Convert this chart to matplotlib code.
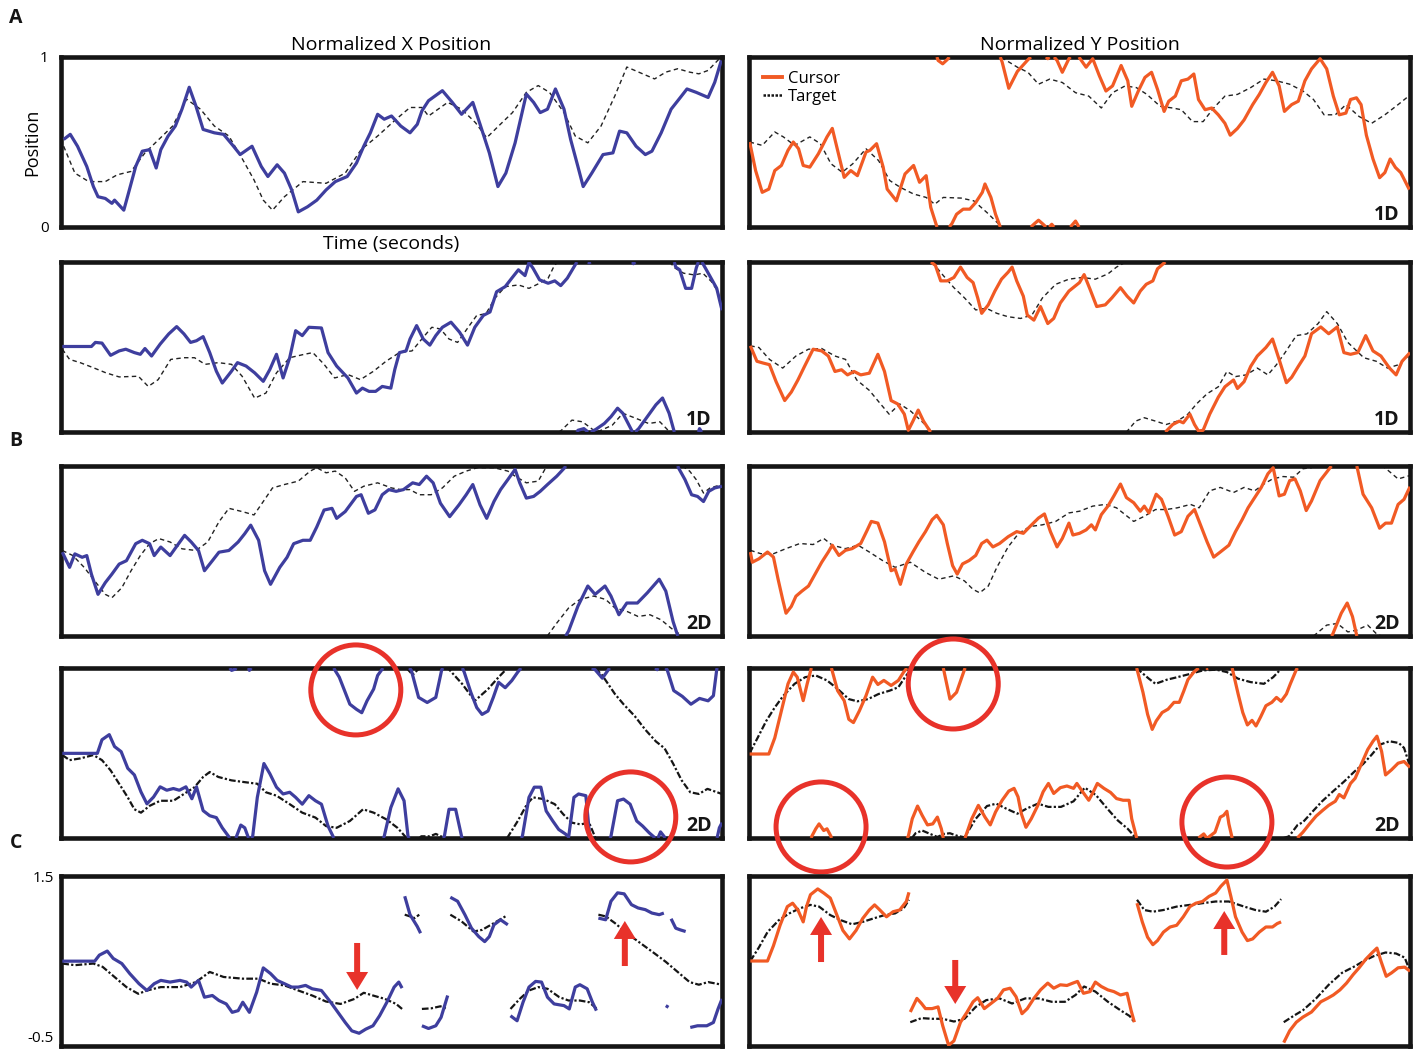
import numpy as np
import matplotlib
matplotlib.use("Agg")
import matplotlib.pyplot as plt
from matplotlib.patches import Ellipse
from matplotlib.lines import Line2D

# ---------------------------------------------------------------------------
# Data: (normalized time, normalized position) samples.
# Rows A (1D) and B (2D) hold unwrapped positions; they are displayed modulo 1.
# Row C holds positions in the nearest-image frame, broken into segments.
# ---------------------------------------------------------------------------

# Row 1 – 1D trial, X
x1_cursor = [(0.004,0.515),(0.014,0.545),(0.025,0.475),(0.039,0.356),(0.049,0.238),(0.056,0.178),(0.067,0.168),(0.077,0.139),(0.081,0.158),(0.095,0.099),(0.102,0.198),(0.113,0.356),(0.123,0.446),(0.134,0.455),(0.144,0.347),(0.151,0.455),(0.162,0.535),(0.173,0.594),(0.183,0.693),(0.194,0.822),(0.204,0.713),(0.215,0.574),(0.232,0.554),(0.246,0.545),(0.261,0.475),(0.271,0.426),(0.289,0.475),(0.303,0.356),(0.313,0.297),(0.327,0.366),(0.338,0.317),(0.349,0.218),(0.359,0.089),(0.373,0.119),(0.387,0.158),(0.401,0.218),(0.415,0.267),(0.433,0.297),(0.447,0.376),(0.458,0.475),(0.468,0.554),(0.479,0.663),(0.489,0.634),(0.500,0.653),(0.514,0.594),(0.528,0.554),(0.539,0.604),(0.546,0.683),(0.556,0.743),(0.577,0.802),(0.592,0.733),(0.606,0.663),(0.623,0.733),(0.634,0.604),(0.648,0.436),(0.661,0.238),(0.673,0.317),(0.687,0.495),(0.704,0.782),(0.715,0.733),(0.725,0.673),(0.736,0.693),(0.748,0.812),(0.761,0.693),(0.771,0.515),(0.782,0.356),(0.790,0.238),(0.803,0.317),(0.820,0.426),(0.835,0.436),(0.845,0.564),(0.856,0.554),(0.870,0.475),(0.884,0.426),(0.894,0.446),(0.908,0.554),(0.923,0.693),(0.937,0.762),(0.947,0.812),(0.961,0.792),(0.979,0.762),(0.989,0.851),(0.999,0.980)]
x1_target = [(0.004,0.475),(0.021,0.317),(0.042,0.267),(0.067,0.267),(0.085,0.307),(0.106,0.327),(0.127,0.436),(0.148,0.515),(0.169,0.594),(0.190,0.752),(0.211,0.693),(0.232,0.594),(0.254,0.535),(0.275,0.396),(0.292,0.277),(0.306,0.158),(0.320,0.099),(0.338,0.178),(0.366,0.267),(0.401,0.257),(0.430,0.317),(0.454,0.455),(0.479,0.535),(0.507,0.634),(0.528,0.703),(0.546,0.703),(0.556,0.653),(0.585,0.733),(0.606,0.693),(0.627,0.614),(0.644,0.525),(0.662,0.594),(0.683,0.673),(0.704,0.792),(0.722,0.832),(0.739,0.792),(0.761,0.673),(0.778,0.535),(0.797,0.495),(0.817,0.594),(0.838,0.772),(0.856,0.941),(0.880,0.901),(0.898,0.871),(0.915,0.911),(0.933,0.931),(0.951,0.911),(0.965,0.901),(0.979,0.921),(0.996,0.990)]

# Row 1 – 1D trial, Y
y1_cursor = [(0.001,0.500),(0.010,0.332),(0.020,0.204),(0.030,0.223),(0.039,0.332),(0.049,0.362),(0.059,0.451),(0.067,0.500),(0.075,0.460),(0.082,0.362),(0.092,0.352),(0.105,0.431),(0.118,0.530),(0.126,0.580),(0.134,0.451),(0.144,0.292),(0.154,0.332),(0.164,0.302),(0.177,0.441),(0.183,0.451),(0.193,0.490),(0.203,0.352),(0.209,0.223),(0.223,0.154),(0.236,0.312),(0.249,0.362),(0.258,0.263),(0.268,0.302),(0.275,0.115),(0.286,-0.020),(0.293,-0.040),(0.300,-0.015),(0.307,0.020),(0.314,0.075),(0.324,0.105),(0.334,0.105),(0.343,0.144),(0.353,0.204),(0.357,0.253),(0.366,0.174),(0.373,0.075),(0.383,-0.030),(0.393,-0.184),(0.406,-0.085),(0.422,-0.016),(0.432,0.020),(0.438,0.040),(0.445,0.016),(0.452,-0.010),(0.458,0.016),(0.466,-0.020),(0.474,-0.090),(0.484,-0.010),(0.494,0.035),(0.500,-0.005),(0.510,-0.060),(0.520,-0.010),(0.530,-0.110),(0.540,-0.200),(0.550,-0.170),(0.563,-0.050),(0.573,-0.140),(0.579,-0.290),(0.589,-0.200),(0.599,-0.120),(0.609,-0.090),(0.618,-0.190),(0.628,-0.320),(0.635,-0.260),(0.645,-0.230),(0.654,-0.140),(0.664,-0.130),(0.673,-0.100),(0.680,-0.250),(0.690,-0.310),(0.700,-0.300),(0.710,-0.340),(0.720,-0.390),(0.728,-0.460),(0.739,-0.420),(0.749,-0.370),(0.762,-0.280),(0.772,-0.220),(0.782,-0.150),(0.792,-0.090),(0.802,-0.170),(0.810,-0.320),(0.821,-0.280),(0.831,-0.260),(0.841,-0.140),(0.851,-0.070),(0.864,-0.010),(0.874,-0.070),(0.884,-0.230),(0.893,-0.340),(0.903,-0.330),(0.910,-0.250),(0.919,-0.240),(0.926,-0.280),(0.934,-0.460),(0.944,-0.600),(0.954,-0.710),(0.962,-0.680),(0.970,-0.600),(0.978,-0.650),(0.986,-0.680),(0.999,-0.780)]
y1_target = [(0.001,0.500),(0.020,0.480),(0.039,0.559),(0.052,0.530),(0.069,0.480),(0.092,0.530),(0.108,0.490),(0.124,0.372),(0.141,0.322),(0.157,0.372),(0.177,0.460),(0.196,0.391),(0.213,0.273),(0.229,0.233),(0.249,0.194),(0.268,0.174),(0.281,0.134),(0.294,0.174),(0.321,0.170),(0.340,0.154),(0.360,0.085),(0.385,-0.010),(0.406,-0.060),(0.422,-0.090),(0.438,-0.160),(0.455,-0.130),(0.474,-0.150),(0.494,-0.210),(0.514,-0.230),(0.533,-0.300),(0.550,-0.210),(0.569,-0.170),(0.586,-0.180),(0.602,-0.220),(0.622,-0.290),(0.641,-0.300),(0.654,-0.310),(0.671,-0.380),(0.687,-0.380),(0.703,-0.300),(0.720,-0.230),(0.739,-0.220),(0.759,-0.180),(0.779,-0.130),(0.798,-0.140),(0.818,-0.160),(0.838,-0.200),(0.854,-0.250),(0.870,-0.340),(0.887,-0.340),(0.903,-0.280),(0.923,-0.350),(0.942,-0.390),(0.962,-0.340),(0.982,-0.280),(0.998,-0.230)]

# Row 2 – second 1D trial, X
x2_cursor = [(0.002,0.503),(0.046,0.503),(0.052,0.527),(0.062,0.523),(0.075,0.451),(0.088,0.477),(0.098,0.487),(0.111,0.467),(0.120,0.457),(0.127,0.491),(0.137,0.447),(0.150,0.517),(0.163,0.577),(0.175,0.620),(0.186,0.577),(0.196,0.527),(0.205,0.537),(0.215,0.561),(0.225,0.467),(0.235,0.358),(0.244,0.288),(0.258,0.358),(0.267,0.408),(0.280,0.388),(0.293,0.348),(0.306,0.298),(0.316,0.368),(0.326,0.457),(0.336,0.318),(0.346,0.437),(0.355,0.596),(0.365,0.567),(0.375,0.616),(0.394,0.612),(0.404,0.467),(0.417,0.388),(0.434,0.318),(0.447,0.229),(0.456,0.258),(0.466,0.239),(0.476,0.239),(0.486,0.268),(0.499,0.258),(0.505,0.368),(0.512,0.467),(0.522,0.477),(0.528,0.547),(0.538,0.626),(0.548,0.547),(0.558,0.511),(0.567,0.567),(0.577,0.616),(0.590,0.646),(0.603,0.587),(0.615,0.511),(0.626,0.616),(0.639,0.686),(0.649,0.706),(0.659,0.825),(0.672,0.855),(0.682,0.905),(0.692,0.954),(0.702,0.920),(0.708,0.997),(0.714,0.964),(0.724,0.895),(0.737,0.875),(0.747,0.889),(0.756,0.861),(0.766,0.905),(0.782,1.010),(0.791,1.020),(0.799,0.995),(0.809,1.015),(0.822,1.050),(0.832,1.090),(0.842,1.140),(0.850,1.110),(0.858,1.050),(0.866,0.990),(0.874,1.020),(0.887,1.090),(0.900,1.160),(0.910,1.200),(0.920,1.110),(0.930,0.970),(0.936,0.954),(0.945,0.845),(0.954,0.845),(0.961,0.964),(0.966,1.020),(0.972,0.984),(0.982,0.915),(0.992,0.845),(1.000,0.716)]
x2_target = [(0.002,0.487),(0.013,0.427),(0.029,0.408),(0.049,0.378),(0.068,0.348),(0.088,0.324),(0.117,0.328),(0.132,0.268),(0.147,0.308),(0.166,0.427),(0.186,0.437),(0.202,0.437),(0.218,0.398),(0.238,0.408),(0.258,0.398),(0.274,0.328),(0.293,0.199),(0.310,0.229),(0.326,0.348),(0.346,0.437),(0.368,0.457),(0.381,0.467),(0.398,0.398),(0.414,0.318),(0.434,0.338),(0.453,0.308),(0.473,0.358),(0.492,0.417),(0.512,0.467),(0.531,0.477),(0.548,0.557),(0.561,0.616),(0.574,0.606),(0.587,0.547),(0.600,0.527),(0.616,0.616),(0.629,0.686),(0.643,0.696),(0.656,0.785),(0.672,0.855),(0.692,0.865),(0.708,0.845),(0.724,0.875),(0.737,0.905),(0.747,0.984),(0.757,1.010),(0.773,1.070),(0.789,1.060),(0.806,1.010),(0.814,1.005),(0.834,1.040),(0.850,1.110),(0.870,1.080),(0.889,1.050),(0.906,1.060),(0.916,1.020),(0.929,0.964),(0.942,0.934),(0.958,0.924),(0.971,0.934),(0.984,0.885),(0.994,0.825),(1.000,0.706)]

# Row 2 – second 1D trial, Y
y2_cursor = [(0.002,0.507),(0.012,0.416),(0.021,0.406),(0.031,0.396),(0.041,0.296),(0.054,0.185),(0.064,0.235),(0.074,0.306),(0.084,0.386),(0.097,0.487),(0.110,0.477),(0.120,0.447),(0.130,0.356),(0.140,0.366),(0.149,0.336),(0.159,0.356),(0.169,0.336),(0.182,0.346),(0.195,0.457),(0.205,0.356),(0.215,0.185),(0.225,0.165),(0.235,0.105),(0.241,0.010),(0.248,0.064),(0.256,0.129),(0.264,0.064),(0.274,0.004),(0.282,-0.020),(0.290,-0.111),(0.300,-0.111),(0.310,-0.091),(0.320,-0.030),(0.330,-0.091),(0.339,-0.121),(0.346,-0.211),(0.352,-0.302),(0.362,-0.252),(0.372,-0.171),(0.382,-0.101),(0.392,-0.060),(0.398,-0.030),(0.405,-0.111),(0.415,-0.201),(0.421,-0.312),(0.431,-0.342),(0.441,-0.262),(0.452,-0.362),(0.461,-0.332),(0.471,-0.241),(0.484,-0.171),(0.500,-0.121),(0.507,-0.074),(0.516,-0.161),(0.526,-0.262),(0.539,-0.252),(0.549,-0.211),(0.562,-0.151),(0.572,-0.201),(0.582,-0.241),(0.592,-0.171),(0.601,-0.131),(0.611,-0.111),(0.618,-0.040),(0.631,0.004),(0.641,0.044),(0.651,0.064),(0.657,0.054),(0.667,0.105),(0.674,0.044),(0.680,0.006),(0.687,0.010),(0.697,0.105),(0.710,0.205),(0.720,0.266),(0.733,0.306),(0.739,0.256),(0.749,0.296),(0.759,0.386),(0.769,0.447),(0.782,0.497),(0.792,0.547),(0.802,0.427),(0.813,0.290),(0.821,0.322),(0.831,0.386),(0.841,0.447),(0.851,0.578),(0.865,0.618),(0.877,0.578),(0.890,0.618),(0.900,0.467),(0.910,0.457),(0.921,0.467),(0.933,0.567),(0.944,0.477),(0.956,0.447),(0.969,0.376),(0.979,0.336),(0.988,0.416),(1.000,0.467)]
y2_target = [(0.002,0.507),(0.015,0.497),(0.031,0.427),(0.051,0.376),(0.071,0.447),(0.090,0.487),(0.110,0.491),(0.130,0.447),(0.146,0.427),(0.163,0.306),(0.182,0.245),(0.199,0.165),(0.212,0.105),(0.228,0.165),(0.244,0.125),(0.261,0.064),(0.274,0.014),(0.294,-0.080),(0.310,-0.151),(0.326,-0.211),(0.343,-0.282),(0.359,-0.272),(0.375,-0.302),(0.392,-0.322),(0.411,-0.332),(0.428,-0.312),(0.444,-0.211),(0.464,-0.131),(0.484,-0.101),(0.504,-0.091),(0.524,-0.101),(0.543,-0.070),(0.556,-0.030),(0.572,0.004),(0.585,0.064),(0.598,0.084),(0.615,0.064),(0.631,0.044),(0.648,0.064),(0.664,0.105),(0.677,0.165),(0.693,0.225),(0.710,0.266),(0.723,0.356),(0.736,0.326),(0.752,0.336),(0.769,0.376),(0.785,0.336),(0.798,0.396),(0.811,0.467),(0.828,0.567),(0.844,0.577),(0.861,0.638),(0.874,0.708),(0.890,0.638),(0.906,0.527),(0.930,0.437),(0.949,0.416),(0.966,0.376),(0.983,0.396),(1.000,0.457)]

# Row 3 – 2D trial, X
x3_cursor = [(0.002,0.493),(0.013,0.404),(0.021,0.483),(0.032,0.463),(0.039,0.473),(0.046,0.364),(0.056,0.245),(0.067,0.314),(0.077,0.364),(0.088,0.423),(0.099,0.443),(0.113,0.543),(0.123,0.563),(0.134,0.543),(0.141,0.473),(0.151,0.523),(0.165,0.473),(0.176,0.533),(0.187,0.592),(0.197,0.553),(0.208,0.503),(0.217,0.384),(0.229,0.443),(0.239,0.493),(0.254,0.503),(0.268,0.553),(0.278,0.602),(0.287,0.652),(0.299,0.563),(0.308,0.384),(0.317,0.304),(0.331,0.404),(0.342,0.463),(0.352,0.543),(0.366,0.563),(0.377,0.563),(0.387,0.642),(0.398,0.741),(0.410,0.751),(0.417,0.692),(0.430,0.732),(0.447,0.821),(0.454,0.831),(0.465,0.722),(0.475,0.742),(0.486,0.831),(0.496,0.861),(0.507,0.851),(0.518,0.861),(0.532,0.901),(0.542,0.891),(0.553,0.940),(0.563,0.901),(0.574,0.781),(0.588,0.702),(0.602,0.771),(0.613,0.831),(0.623,0.891),(0.634,0.771),(0.644,0.692),(0.655,0.791),(0.665,0.861),(0.676,0.920),(0.687,0.980),(0.694,0.901),(0.704,0.811),(0.715,0.821),(0.725,0.851),(0.736,0.891),(0.750,0.940),(0.762,0.990),(0.768,1.030),(0.782,1.175),(0.797,1.294),(0.808,1.245),(0.823,1.294),(0.832,1.235),(0.844,1.125),(0.856,1.194),(0.872,1.194),(0.887,1.254),(0.905,1.334),(0.915,1.264),(0.926,1.085),(0.934,0.990),(0.944,0.920),(0.954,0.831),(0.963,0.821),(0.972,0.791),(0.980,0.851),(0.989,0.871),(1.000,0.881)]
x3_target = [(0.002,0.503),(0.018,0.473),(0.035,0.404),(0.053,0.314),(0.067,0.245),(0.077,0.225),(0.092,0.284),(0.106,0.384),(0.120,0.473),(0.134,0.543),(0.148,0.573),(0.165,0.553),(0.183,0.513),(0.204,0.503),(0.222,0.553),(0.239,0.672),(0.254,0.751),(0.275,0.731),(0.292,0.712),(0.306,0.791),(0.320,0.871),(0.338,0.891),(0.359,0.911),(0.377,0.970),(0.387,0.990),(0.401,0.960),(0.415,0.970),(0.430,0.930),(0.444,0.851),(0.458,0.881),(0.479,0.901),(0.500,0.871),(0.514,0.861),(0.528,0.861),(0.542,0.831),(0.560,0.831),(0.577,0.871),(0.595,0.940),(0.613,0.970),(0.630,0.990),(0.655,0.990),(0.676,0.970),(0.687,0.940),(0.704,0.901),(0.722,0.911),(0.732,0.980),(0.750,1.076),(0.768,1.165),(0.785,1.215),(0.806,1.235),(0.824,1.215),(0.838,1.165),(0.856,1.145),(0.873,1.115),(0.891,1.125),(0.908,1.095),(0.923,1.046),(0.951,0.970),(0.961,0.920),(0.972,0.841),(0.982,0.871),(1.000,0.891)]

# Row 3 – 2D trial, Y
y3_cursor = [(0.002,0.494),(0.005,0.434),(0.015,0.454),(0.028,0.494),(0.037,0.464),(0.044,0.334),(0.051,0.214),(0.056,0.134),(0.064,0.174),(0.071,0.234),(0.080,0.264),(0.090,0.294),(0.100,0.364),(0.110,0.434),(0.120,0.494),(0.126,0.534),(0.136,0.474),(0.146,0.504),(0.156,0.514),(0.169,0.544),(0.179,0.624),(0.185,0.674),(0.195,0.664),(0.205,0.554),(0.215,0.384),(0.221,0.394),(0.229,0.304),(0.238,0.424),(0.248,0.494),(0.257,0.554),(0.267,0.614),(0.277,0.684),(0.284,0.710),(0.294,0.654),(0.300,0.544),(0.308,0.414),(0.315,0.364),(0.323,0.424),(0.333,0.444),(0.343,0.474),(0.352,0.544),(0.360,0.564),(0.369,0.524),(0.379,0.544),(0.392,0.584),(0.405,0.614),(0.415,0.604),(0.425,0.644),(0.438,0.694),(0.447,0.718),(0.456,0.614),(0.466,0.524),(0.474,0.574),(0.484,0.664),(0.490,0.594),(0.500,0.604),(0.510,0.624),(0.518,0.654),(0.524,0.624),(0.533,0.714),(0.543,0.764),(0.552,0.824),(0.562,0.894),(0.571,0.814),(0.582,0.784),(0.592,0.734),(0.598,0.764),(0.605,0.724),(0.616,0.834),(0.624,0.804),(0.634,0.704),(0.644,0.594),(0.654,0.614),(0.664,0.704),(0.674,0.744),(0.683,0.654),(0.693,0.554),(0.703,0.464),(0.713,0.494),(0.726,0.534),(0.736,0.614),(0.746,0.684),(0.755,0.754),(0.765,0.814),(0.775,0.874),(0.785,0.954),(0.793,0.990),(0.802,0.824),(0.810,0.834),(0.818,0.914),(0.826,0.924),(0.834,0.854),(0.843,0.738),(0.851,0.794),(0.864,0.914),(0.874,0.964),(0.883,1.010),(0.896,1.134),(0.905,1.194),(0.913,1.114),(0.919,1.010),(0.929,0.834),(0.942,0.754),(0.954,0.634),(0.963,0.664),(0.972,0.664),(0.982,0.774),(0.991,0.804),(1.000,0.878)]
y3_target = [(0.002,0.504),(0.018,0.484),(0.037,0.484),(0.056,0.514),(0.077,0.544),(0.097,0.538),(0.113,0.574),(0.126,0.534),(0.146,0.514),(0.165,0.534),(0.182,0.494),(0.202,0.444),(0.221,0.404),(0.244,0.434),(0.267,0.374),(0.287,0.334),(0.310,0.354),(0.326,0.324),(0.339,0.274),(0.349,0.254),(0.362,0.294),(0.375,0.404),(0.392,0.524),(0.408,0.604),(0.425,0.644),(0.444,0.654),(0.464,0.674),(0.484,0.724),(0.500,0.734),(0.520,0.764),(0.539,0.774),(0.556,0.754),(0.569,0.714),(0.582,0.674),(0.598,0.704),(0.615,0.744),(0.631,0.744),(0.648,0.754),(0.668,0.774),(0.681,0.754),(0.697,0.854),(0.713,0.874),(0.733,0.844),(0.749,0.874),(0.765,0.854),(0.779,0.894),(0.792,0.924),(0.808,0.938),(0.824,0.934),(0.838,0.984),(0.851,0.990),(0.874,1.064),(0.890,1.074),(0.906,1.024),(0.919,1.034),(0.936,1.064),(0.949,1.014),(0.962,0.990),(0.982,0.924),(1.000,0.944)]

# Row 4 – second 2D trial, X
x4_cursor = [(0.002,0.498),(0.055,0.498),(0.062,0.578),(0.073,0.608),(0.081,0.538),(0.091,0.508),(0.101,0.410),(0.111,0.371),(0.121,0.271),(0.130,0.201),(0.140,0.241),(0.150,0.301),(0.160,0.281),(0.170,0.291),(0.179,0.281),(0.189,0.301),(0.198,0.231),(0.205,0.301),(0.215,0.161),(0.225,0.131),(0.235,0.120),(0.244,0.060),(0.258,-0.014),(0.264,-0.006),(0.272,0.076),(0.278,0.060),(0.285,-0.014),(0.290,0.010),(0.297,0.239),(0.307,0.438),(0.316,0.378),(0.326,0.299),(0.336,0.259),(0.346,0.269),(0.355,0.239),(0.365,0.199),(0.375,0.249),(0.385,0.219),(0.394,0.199),(0.404,0.070),(0.414,-0.010),(0.421,-0.054),(0.430,-0.143),(0.437,-0.213),(0.447,-0.243),(0.455,-0.263),(0.463,-0.193),(0.473,-0.124),(0.479,-0.044),(0.489,0.010),(0.499,0.179),(0.510,0.289),(0.519,0.219),(0.525,0.010),(0.530,-0.014),(0.541,-0.173),(0.554,-0.203),(0.567,-0.173),(0.576,-0.010),(0.580,0.010),(0.587,0.169),(0.597,0.169),(0.606,0.010),(0.610,-0.024),(0.620,-0.143),(0.629,-0.233),(0.637,-0.273),(0.646,-0.253),(0.654,-0.173),(0.662,-0.084),(0.672,-0.116),(0.682,-0.074),(0.691,-0.024),(0.698,0.010),(0.708,0.239),(0.716,0.299),(0.726,0.299),(0.734,0.159),(0.744,0.100),(0.753,0.050),(0.763,0.024),(0.768,0.006),(0.776,0.239),(0.783,0.259),(0.794,0.249),(0.800,0.006),(0.808,-0.010),(0.819,-0.060),(0.828,-0.010),(0.832,0.010),(0.842,0.219),(0.851,0.229),(0.861,0.199),(0.871,0.100),(0.880,0.070),(0.890,0.030),(0.897,0.006),(0.902,-0.010),(0.907,0.036),(0.913,0.006),(0.917,-0.010),(0.927,-0.133),(0.940,-0.167),(0.953,-0.213),(0.966,-0.179),(0.979,-0.193),(0.987,-0.163),(0.992,-0.010),(0.996,0.060),(1.000,0.090)]
x4_target = [(0.002,0.488),(0.013,0.458),(0.029,0.468),(0.049,0.488),(0.062,0.458),(0.075,0.398),(0.088,0.319),(0.101,0.239),(0.111,0.169),(0.121,0.149),(0.134,0.189),(0.150,0.219),(0.170,0.219),(0.186,0.259),(0.202,0.299),(0.215,0.359),(0.225,0.388),(0.238,0.359),(0.258,0.339),(0.277,0.329),(0.297,0.319),(0.310,0.269),(0.326,0.249),(0.346,0.199),(0.365,0.149),(0.385,0.120),(0.401,0.070),(0.417,0.060),(0.437,0.100),(0.457,0.169),(0.473,0.149),(0.492,0.110),(0.509,0.060),(0.532,-0.040),(0.545,0.010),(0.558,0.010),(0.567,0.024),(0.577,0.006),(0.587,-0.008),(0.607,-0.094),(0.626,-0.193),(0.646,-0.124),(0.662,-0.054),(0.674,-0.006),(0.691,0.100),(0.705,0.199),(0.714,0.239),(0.730,0.229),(0.747,0.199),(0.760,0.139),(0.773,0.090),(0.786,0.080),(0.799,0.090),(0.809,-0.004),(0.819,-0.044),(0.838,-0.153),(0.851,-0.213),(0.868,-0.283),(0.884,-0.363),(0.900,-0.432),(0.913,-0.472),(0.926,-0.562),(0.939,-0.661),(0.952,-0.731),(0.965,-0.741),(0.978,-0.711),(1.000,-0.741)]

# Row 4 – second 2D trial, Y
y4_cursor = [(0.001,0.494),(0.030,0.494),(0.039,0.589),(0.049,0.748),(0.059,0.907),(0.067,0.976),(0.073,0.946),(0.082,0.808),(0.088,0.907),(0.095,1.010),(0.101,1.054),(0.106,1.083),(0.113,1.044),(0.118,1.054),(0.124,1.010),(0.134,0.867),(0.144,0.808),(0.151,0.698),(0.158,0.679),(0.167,0.748),(0.177,0.837),(0.187,0.946),(0.195,0.903),(0.204,0.927),(0.215,0.897),(0.226,0.927),(0.234,0.976),(0.241,1.010),(0.247,1.113),(0.255,1.188),(0.262,1.133),(0.270,1.077),(0.278,1.083),(0.285,1.123),(0.291,1.054),(0.304,0.817),(0.314,0.857),(0.337,1.113),(0.347,1.192),(0.357,1.123),(0.365,1.077),(0.373,1.153),(0.383,1.222),(0.393,1.276),(0.401,1.292),(0.407,1.242),(0.412,1.143),(0.419,1.063),(0.427,1.113),(0.437,1.192),(0.445,1.272),(0.453,1.321),(0.461,1.262),(0.471,1.296),(0.481,1.306),(0.491,1.292),(0.496,1.321),(0.504,1.276),(0.514,1.222),(0.521,1.272),(0.527,1.321),(0.537,1.292),(0.547,1.268),(0.556,1.232),(0.566,1.222),(0.575,1.222),(0.579,1.113),(0.596,0.857),(0.603,0.728),(0.610,0.639),(0.616,0.688),(0.625,0.738),(0.634,0.758),(0.643,0.798),(0.651,0.798),(0.658,0.867),(0.664,0.931),(0.673,0.976),(0.682,1.006),(0.688,1.024),(0.693,0.997),(0.697,1.010),(0.705,1.034),(0.713,1.123),(0.718,1.133),(0.723,1.157),(0.726,1.083),(0.740,0.847),(0.747,0.738),(0.754,0.665),(0.761,0.692),(0.767,0.659),(0.774,0.712),(0.782,0.778),(0.791,0.798),(0.798,0.827),(0.805,0.804),(0.813,0.847),(0.819,0.907),(0.828,0.990),(0.831,1.006),(0.838,1.034),(0.848,1.083),(0.858,1.129),(0.868,1.163),(0.877,1.192),(0.887,1.216),(0.893,1.256),(0.900,1.236),(0.910,1.321),(0.917,1.351),(0.926,1.431),(0.936,1.520),(0.944,1.569),(0.950,1.599),(0.957,1.510),(0.963,1.371),(0.972,1.401),(0.982,1.440),(0.991,1.450),(1.000,1.415)]
y4_target = [(0.001,0.500),(0.013,0.589),(0.026,0.688),(0.039,0.768),(0.052,0.837),(0.069,0.907),(0.085,0.946),(0.101,0.956),(0.118,0.927),(0.134,0.877),(0.151,0.817),(0.164,0.804),(0.180,0.817),(0.196,0.847),(0.213,0.867),(0.226,0.887),(0.236,0.946),(0.252,1.028),(0.262,1.044),(0.274,1.024),(0.285,1.006),(0.295,1.024),(0.304,1.028),(0.314,1.014),(0.326,1.004),(0.343,1.113),(0.360,1.188),(0.374,1.202),(0.389,1.173),(0.406,1.143),(0.420,1.173),(0.437,1.202),(0.453,1.183),(0.472,1.183),(0.491,1.216),(0.508,1.296),(0.525,1.252),(0.542,1.173),(0.558,1.103),(0.573,1.054),(0.584,1.006),(0.589,0.990),(0.605,0.937),(0.615,0.907),(0.632,0.931),(0.648,0.946),(0.668,0.966),(0.687,0.986),(0.707,0.990),(0.723,0.976),(0.740,0.937),(0.759,0.917),(0.779,0.907),(0.793,0.946),(0.805,0.995),(0.817,1.010),(0.830,1.077),(0.838,1.093),(0.852,1.153),(0.867,1.216),(0.884,1.276),(0.900,1.331),(0.916,1.391),(0.929,1.435),(0.942,1.490),(0.955,1.550),(0.969,1.569),(0.983,1.559),(0.991,1.530),(1.000,1.421)]

# Row 5 – second 2D trial, nearest-image positions (segments)
x5_cursor = [
    [(0.002,0.498),(0.051,0.498),(0.058,0.569),(0.070,0.617),(0.079,0.530),(0.092,0.470),(0.104,0.352),(0.118,0.233),(0.130,0.153),(0.141,0.233),(0.151,0.272),(0.165,0.252),(0.180,0.272),(0.190,0.252),(0.197,0.193),(0.208,0.272),(0.217,0.074),(0.229,0.094),(0.239,0.035),(0.250,-0.005),(0.259,-0.104),(0.268,-0.084),(0.275,0.015),(0.285,-0.104),(0.296,0.133),(0.306,0.419),(0.317,0.352),(0.327,0.272),(0.338,0.233),(0.349,0.193),(0.359,0.193),(0.370,0.213),(0.380,0.173),(0.394,0.153),(0.408,0.015),(0.419,-0.104),(0.430,-0.223),(0.440,-0.322),(0.451,-0.350),(0.461,-0.302),(0.472,-0.262),(0.482,-0.144),(0.493,0.015),(0.504,0.193),(0.511,0.252),(0.516,0.181)],
    [(0.520,1.262),(0.528,1.045),(0.539,0.906),(0.544,0.827)],
    [(0.546,-0.262),(0.556,-0.294),(0.567,-0.262),(0.575,-0.163),(0.585,0.094)],
    [(0.589,1.250),(0.600,1.203),(0.611,1.045),(0.621,0.886),(0.632,0.787),(0.641,0.728),(0.648,0.787),(0.655,0.926),(0.665,0.985),(0.676,0.926)],
    [(0.680,-0.144),(0.690,-0.203),(0.699,0.015),(0.708,0.193),(0.718,0.260),(0.727,0.252),(0.736,0.074),(0.746,-0.005),(0.761,-0.025),(0.769,-0.064),(0.778,0.193),(0.785,0.221),(0.796,0.173),(0.804,0.015),(0.810,-0.084)],
    [(0.813,1.005),(0.824,0.985),(0.832,1.203),(0.842,1.302),(0.852,1.290),(0.863,1.163),(0.873,1.124),(0.884,1.104),(0.894,1.064),(0.905,1.045),(0.912,1.064)],
    [(0.915,-0.025),(0.919,-0.045)],
    [(0.923,0.997),(0.930,0.886),(0.937,0.866),(0.945,0.847)],
    [(0.952,-0.282),(0.963,-0.262),(0.977,-0.262),(0.987,-0.223),(0.994,-0.064),(1.000,0.054)],
]
x5_target = [
    [(0.002,0.470),(0.021,0.451),(0.049,0.470),(0.063,0.431),(0.081,0.312),(0.099,0.193),(0.117,0.114),(0.130,0.153),(0.151,0.193),(0.180,0.193),(0.204,0.252),(0.225,0.371),(0.246,0.312),(0.275,0.292),(0.299,0.292),(0.317,0.233),(0.338,0.213),(0.359,0.153),(0.380,0.094),(0.401,0.023),(0.423,-0.005),(0.444,0.054),(0.458,0.126),(0.472,0.094),(0.490,0.054),(0.507,-0.005),(0.516,-0.064)],
    [(0.520,1.045),(0.528,1.025),(0.535,1.005),(0.542,1.045)],
    [(0.546,-0.064),(0.560,-0.057),(0.574,-0.033),(0.585,-0.064)],
    [(0.589,1.045),(0.606,0.966),(0.624,0.847),(0.637,0.866),(0.655,0.946),(0.675,1.037)],
    [(0.680,-0.064),(0.694,0.054),(0.708,0.153),(0.722,0.193),(0.736,0.173),(0.754,0.074),(0.768,0.035),(0.785,0.035),(0.799,0.015),(0.811,-0.064)],
    [(0.813,1.045),(0.824,1.025),(0.838,0.946),(0.856,0.827),(0.877,0.708),(0.898,0.589),(0.915,0.490),(0.933,0.371),(0.951,0.252),(0.965,0.221),(0.979,0.252),(1.000,0.221)],
]
y5_cursor = [
    [(0.002,0.500),(0.028,0.500),(0.037,0.680),(0.047,0.920),(0.058,1.140),(0.066,1.180),(0.074,1.100),(0.082,0.960),(0.087,1.140),(0.093,1.280),(0.104,1.348),(0.113,1.300),(0.123,1.240),(0.133,1.040),(0.142,0.860),(0.152,0.760),(0.162,0.860),(0.172,1.000),(0.182,1.100),(0.190,1.160),(0.198,1.100),(0.208,1.020),(0.218,1.080),(0.228,1.100),(0.238,1.200),(0.242,1.308)],
    [(0.244,-0.100),(0.254,0.060),(0.261,0.000),(0.267,-0.060),(0.277,-0.060),(0.286,-0.040),(0.293,-0.260),(0.302,-0.492),(0.310,-0.440),(0.320,-0.220),(0.330,-0.100),(0.339,0.020),(0.346,0.068),(0.356,-0.060),(0.366,0.000),(0.376,0.060),(0.385,0.160),(0.395,0.180),(0.404,0.080),(0.413,-0.120),(0.421,-0.060),(0.431,0.060),(0.441,0.160),(0.452,0.240),(0.461,0.180),(0.471,0.220),(0.481,0.212),(0.490,0.240),(0.497,0.260),(0.506,0.120),(0.516,0.140),(0.524,0.252),(0.533,0.200),(0.543,0.160),(0.552,0.140),(0.562,0.100),(0.572,0.120),(0.578,-0.080),(0.583,-0.220)],
    [(0.587,1.180),(0.595,0.960),(0.603,0.780),(0.611,0.692),(0.618,0.740),(0.627,0.840),(0.637,0.900),(0.647,0.920),(0.657,1.020),(0.667,1.140),(0.676,1.180),(0.686,1.200),(0.696,1.260),(0.706,1.300),(0.714,1.380),(0.723,1.452),(0.729,1.260),(0.736,1.020),(0.746,0.840),(0.754,0.740),(0.762,0.760),(0.772,0.840),(0.782,0.900),(0.792,0.900),(0.799,0.940),(0.805,0.960)],
    [(0.809,-0.460),(0.818,-0.320),(0.828,-0.220),(0.838,-0.160),(0.851,-0.100),(0.865,0.020),(0.875,0.060),(0.884,0.100),(0.894,0.160),(0.904,0.240),(0.914,0.340),(0.923,0.420),(0.933,0.520),(0.943,0.600),(0.950,0.652),(0.956,0.500),(0.964,0.320),(0.972,0.360),(0.982,0.420),(0.992,0.428),(1.000,0.380)],
]
y5_target = [
    [(0.002,0.500),(0.015,0.660),(0.028,0.840),(0.045,0.980),(0.061,1.060),(0.077,1.120),(0.093,1.160),(0.106,1.140),(0.123,1.040),(0.139,0.980),(0.156,0.932),(0.172,0.960),(0.188,1.000),(0.205,1.040),(0.221,1.060),(0.234,1.120),(0.242,1.220)],
    [(0.244,-0.220),(0.261,-0.172),(0.277,-0.180),(0.293,-0.180),(0.310,-0.212),(0.326,-0.180),(0.343,-0.040),(0.359,0.040),(0.379,0.060),(0.398,0.000),(0.418,0.060),(0.438,0.060),(0.458,0.020),(0.478,0.020),(0.494,0.100),(0.507,0.200),(0.524,0.140),(0.543,0.020),(0.562,-0.080),(0.576,-0.148),(0.583,-0.220)],
    [(0.587,1.220),(0.598,1.100),(0.611,1.080),(0.627,1.100),(0.647,1.140),(0.667,1.160),(0.686,1.180),(0.706,1.200),(0.726,1.200),(0.746,1.148),(0.766,1.100),(0.782,1.080),(0.795,1.140),(0.805,1.228)],
    [(0.809,-0.220),(0.825,-0.140),(0.838,-0.080),(0.858,0.060),(0.877,0.220),(0.897,0.360),(0.917,0.440),(0.930,0.500),(0.946,0.560),(0.963,0.600),(0.979,0.588),(0.992,0.540),(1.000,0.380)],
]

# Highlighted wrap events in row 4: (time, position) of each circle centre
x4_events = [(0.446, 0.871), (0.862, 0.124)]
y4_events = [(0.309, 0.906), (0.109, 0.065), (0.723, 0.094)]
# Arrows in row C: (time, tail, tip)
x5_arrows = [(0.448, 0.712, 0.159), (0.853, 0.441, 0.971)]
y5_arrows = [(0.109, 0.488, 1.018), (0.312, 0.512, -0.006), (0.719, 0.571, 1.088)]

# ---------------------------------------------------------------------------
BLUE = "#3e3e9e"
ORANGE = "#f15a24"
RED = "#e8322a"
INK = "#151515"

plt.rcParams["font.family"] = ["Open Sans", "DejaVu Sans"]

W, H = 1418, 1049
fig = plt.figure(figsize=(W / 100, H / 100), dpi=100)
fig.patch.set_facecolor("white")

COLS = [(61, 722), (749, 1410)]
ROWS = [(57, 227), (262, 432), (466, 636), (668, 838), (876, 1046)]


def make_axes(col, row, ylim=(0, 1)):
    x0, x1 = COLS[col]
    y0, y1 = ROWS[row]
    ax = fig.add_axes([x0 / W, 1 - y1 / H, (x1 - x0) / W, (y1 - y0) / H])
    ax.set_xlim(0, 1)
    ax.set_ylim(*ylim)
    ax.set_xticks([])
    ax.set_yticks([])
    for s in ax.spines.values():
        s.set_linewidth(3.3)
        s.set_color(INK)
    return ax


def wrap_unit(pairs):
    """Split an unwrapped trace into pieces displayed modulo 1."""
    t = np.array([p[0] for p in pairs], float)
    v = np.array([p[1] for p in pairs], float)
    xs, ys = [t[0]], [v[0] - np.floor(v[0])]
    for i in range(1, len(t)):
        a, b = v[i - 1], v[i]
        ka, kb = int(np.floor(a)), int(np.floor(b))
        if kb > ka:
            levels, up = range(ka + 1, kb + 1), True
        elif kb < ka:
            levels, up = range(ka, kb, -1), False
        else:
            levels, up = [], True
        for k in levels:
            tc = t[i - 1] + (k - a) / (b - a) * (t[i] - t[i - 1])
            xs += [tc, np.nan, tc]
            ys += [1.0, np.nan, 0.0] if up else [0.0, np.nan, 1.0]
        xs.append(t[i])
        ys.append(b - np.floor(b))
    return np.array(xs), np.array(ys)


def segments(segs):
    xs, ys = [], []
    for seg in segs:
        xs += [p[0] for p in seg] + [np.nan]
        ys += [p[1] for p in seg] + [np.nan]
    return np.array(xs), np.array(ys)


TARGET_THIN = dict(color="#222222", lw=1.0, dashes=(3.2, 2.4))
TARGET_BOLD = dict(color=INK, lw=1.6, dashes=(3.0, 1.0, 1.0, 1.0))


def draw_wrapped(ax, cursor, target, color, tstyle):
    tx, ty = wrap_unit(target)
    ax.plot(tx, ty, zorder=2, **tstyle)
    cx, cy = wrap_unit(cursor)
    ax.plot(cx, cy, color=color, lw=2.3, solid_joinstyle="round",
            solid_capstyle="butt", zorder=3)


def tag(ax, text):
    ax.text(0.984, 0.04, text, transform=ax.transAxes, ha="right", va="baseline",
            fontsize=14, fontweight="bold", color=INK, zorder=5)


# Row 1
ax = make_axes(0, 0)
draw_wrapped(ax, x1_cursor, x1_target, BLUE, TARGET_THIN)
ax.set_title("Normalized X Position", fontsize=14, pad=5)
ax.set_yticks([0, 1])
ax.set_yticklabels(["0", "1"], fontsize=11)
ax.tick_params(axis="y", length=0, pad=9)
ax.set_ylabel("Position", fontsize=13, labelpad=-1)
ax.set_xlabel("Time (seconds)", fontsize=14, labelpad=6)

ax = make_axes(1, 0)
draw_wrapped(ax, y1_cursor, y1_target, ORANGE, TARGET_THIN)
ax.set_title("Normalized Y Position", fontsize=14, pad=5)
handles = [Line2D([], [], color=ORANGE, lw=2.8),
           Line2D([], [], color=INK, lw=1.8, linestyle=(0, (1.0, 0.6)))]
ax.legend(handles, ["Cursor", "Target"], loc="upper left", frameon=False,
          fontsize=12, handlelength=1.15, handletextpad=0.35, labelspacing=0.1,
          borderaxespad=0.55, borderpad=0.3)
tag(ax, "1D")

# Row 2
ax = make_axes(0, 1)
draw_wrapped(ax, x2_cursor, x2_target, BLUE, TARGET_THIN)
tag(ax, "1D")
ax = make_axes(1, 1)
draw_wrapped(ax, y2_cursor, y2_target, ORANGE, TARGET_THIN)
tag(ax, "1D")

# Row 3
ax = make_axes(0, 2)
draw_wrapped(ax, x3_cursor, x3_target, BLUE, TARGET_THIN)
tag(ax, "2D")
ax = make_axes(1, 2)
draw_wrapped(ax, y3_cursor, y3_target, ORANGE, TARGET_THIN)
tag(ax, "2D")

# Row 4 with circled wrap events
circle_w = 90 / (COLS[0][1] - COLS[0][0])
circle_h = 90 / (ROWS[3][1] - ROWS[3][0])
for col, (cur, tgt, color, events) in enumerate([
        (x4_cursor, x4_target, BLUE, x4_events),
        (y4_cursor, y4_target, ORANGE, y4_events)]):
    ax = make_axes(col, 3)
    draw_wrapped(ax, cur, tgt, color, TARGET_BOLD)
    tag(ax, "2D")
    for (ex, ey) in events:
        ax.add_patch(Ellipse((ex, ey), circle_w, circle_h, fill=False,
                             ec=RED, lw=3.6, clip_on=False, zorder=10))

# Row 5 in nearest-image coordinates, with arrows
yr = (-0.5, 1.5)
px_per_unit_y = (ROWS[4][1] - ROWS[4][0]) / (yr[1] - yr[0])
px_per_unit_x = COLS[0][1] - COLS[0][0]
for col, (cur, tgt, color, arrows) in enumerate([
        (x5_cursor, x5_target, BLUE, x5_arrows),
        (y5_cursor, y5_target, ORANGE, y5_arrows)]):
    ax = make_axes(col, 4, ylim=yr)
    tx, ty = segments(tgt)
    ax.plot(tx, ty, zorder=2, **TARGET_BOLD)
    cx, cy = segments(cur)
    ax.plot(cx, cy, color=color, lw=2.3, solid_joinstyle="round",
            solid_capstyle="butt", zorder=3)
    for (at, tail, tip) in arrows:
        ax.arrow(at, tail, 0, tip - tail, width=6 / px_per_unit_x,
                 head_width=22 / px_per_unit_x, head_length=18 / px_per_unit_y,
                 length_includes_head=True, color=RED, lw=0, zorder=6)
    if col == 0:
        ax.set_yticks([-0.5, 1.5])
        labels = ax.set_yticklabels(["-0.5", "1.5"], fontsize=11)
        labels[0].set_verticalalignment("bottom")
        ax.tick_params(axis="y", length=0, pad=5)

# Panel letters
for letter, ypix in [("A", 18), ("B", 441), ("C", 843)]:
    fig.text(16 / W, 1 - ypix / H, letter, ha="center", va="center",
             fontsize=14, fontweight="bold", color=INK)

fig.savefig("out.png", dpi=100, facecolor="white")
